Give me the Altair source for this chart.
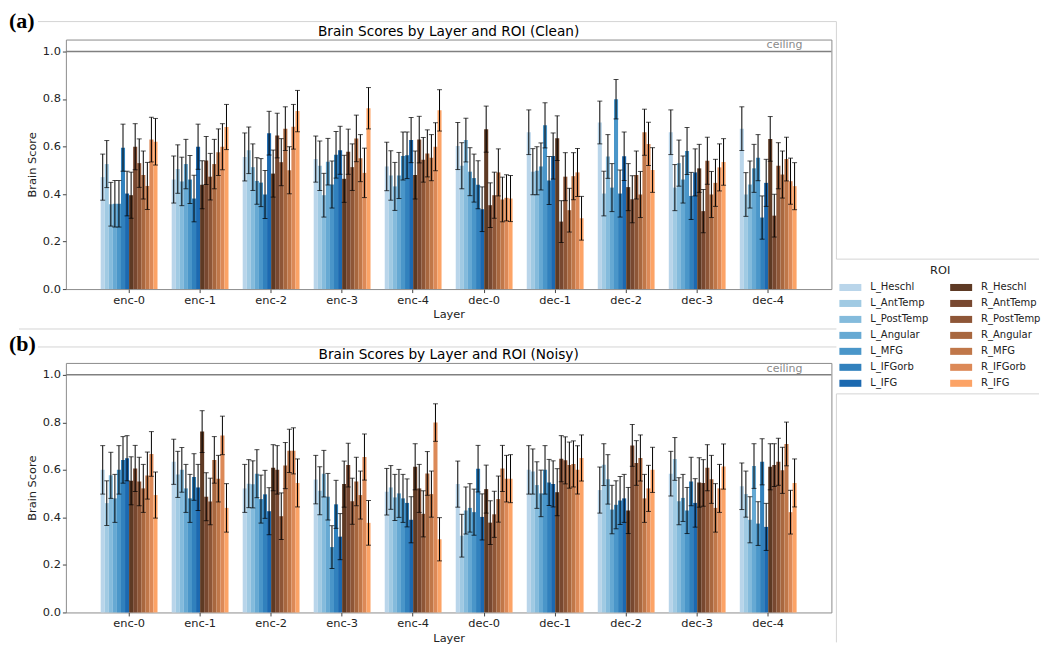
import altair as alt
import pandas as pd

layers = ["enc-0", "enc-1", "enc-2", "enc-3", "enc-4",
          "dec-0", "dec-1", "dec-2", "dec-3", "dec-4"]
rois = ["L_Heschl", "L_AntTemp", "L_PostTemp", "L_Angular", "L_MFG", "L_IFGorb", "L_IFG",
        "R_Heschl", "R_AntTemp", "R_PostTemp", "R_Angular", "R_MFG", "R_IFGorb", "R_IFG"]
roi_colors = ["#b9d5ea", "#a0cae3", "#84bbdc", "#66a9d3", "#4a96c9", "#3181bd", "#1c69b0",
              "#5e3a24", "#784830", "#8e5637", "#a8673f", "#c07749", "#dc8957", "#fca366"]

# Clean condition: mean brain score per layer (rows) and ROI (columns, order of `rois`)
clean_scores = [
    [0.471, 0.526, 0.357, 0.359, 0.359, 0.595, 0.402, 0.395, 0.599, 0.530, 0.480, 0.434, 0.629, 0.620],
    [0.461, 0.505, 0.453, 0.526, 0.461, 0.381, 0.599, 0.439, 0.541, 0.473, 0.526, 0.576, 0.599, 0.682],
    [0.556, 0.584, 0.513, 0.455, 0.448, 0.398, 0.656, 0.486, 0.646, 0.534, 0.675, 0.500, 0.683, 0.749],
    [0.547, 0.519, 0.395, 0.536, 0.440, 0.565, 0.584, 0.464, 0.578, 0.513, 0.634, 0.551, 0.489, 0.761],
    [0.516, 0.478, 0.432, 0.478, 0.560, 0.563, 0.627, 0.480, 0.629, 0.544, 0.571, 0.553, 0.599, 0.752],
    [0.602, 0.519, 0.627, 0.494, 0.467, 0.439, 0.336, 0.673, 0.353, 0.395, 0.491, 0.377, 0.384, 0.381],
    [0.660, 0.494, 0.498, 0.516, 0.689, 0.457, 0.560, 0.635, 0.284, 0.473, 0.332, 0.475, 0.491, 0.298],
    [0.701, 0.402, 0.558, 0.427, 0.799, 0.402, 0.559, 0.429, 0.378, 0.480, 0.398, 0.660, 0.611, 0.501],
    [0.660, 0.427, 0.530, 0.461, 0.581, 0.392, 0.491, 0.508, 0.328, 0.540, 0.398, 0.447, 0.512, 0.535],
    [0.675, 0.398, 0.440, 0.508, 0.553, 0.301, 0.447, 0.632, 0.309, 0.519, 0.482, 0.547, 0.454, 0.433],
]
clean_errors = [
    [0.097, 0.099, 0.092, 0.098, 0.098, 0.099, 0.094, 0.097, 0.097, 0.102, 0.101, 0.099, 0.094, 0.098],
    [0.099, 0.102, 0.102, 0.104, 0.101, 0.098, 0.095, 0.101, 0.101, 0.098, 0.104, 0.098, 0.097, 0.095],
    [0.101, 0.098, 0.098, 0.098, 0.101, 0.101, 0.092, 0.099, 0.094, 0.099, 0.092, 0.099, 0.094, 0.087],
    [0.097, 0.104, 0.092, 0.098, 0.099, 0.098, 0.101, 0.099, 0.095, 0.098, 0.098, 0.099, 0.104, 0.087],
    [0.102, 0.104, 0.101, 0.097, 0.101, 0.098, 0.095, 0.101, 0.098, 0.094, 0.099, 0.097, 0.101, 0.087],
    [0.099, 0.097, 0.092, 0.101, 0.101, 0.101, 0.094, 0.097, 0.094, 0.097, 0.099, 0.094, 0.097, 0.097],
    [0.094, 0.097, 0.101, 0.099, 0.095, 0.101, 0.097, 0.094, 0.088, 0.101, 0.092, 0.099, 0.101, 0.092],
    [0.090, 0.094, 0.092, 0.101, 0.083, 0.099, 0.102, 0.099, 0.099, 0.101, 0.097, 0.097, 0.091, 0.094],
    [0.094, 0.097, 0.097, 0.099, 0.099, 0.099, 0.099, 0.101, 0.091, 0.099, 0.097, 0.099, 0.099, 0.098],
    [0.092, 0.092, 0.099, 0.101, 0.097, 0.091, 0.099, 0.094, 0.090, 0.097, 0.099, 0.092, 0.097, 0.099],
]

# Noisy condition
noisy_scores = [
    [0.600, 0.460, 0.577, 0.480, 0.600, 0.642, 0.649, 0.554, 0.606, 0.551, 0.522, 0.576, 0.667, 0.494],
    [0.634, 0.581, 0.600, 0.522, 0.480, 0.570, 0.526, 0.761, 0.487, 0.467, 0.642, 0.563, 0.745, 0.440],
    [0.522, 0.542, 0.539, 0.584, 0.477, 0.497, 0.426, 0.609, 0.600, 0.405, 0.618, 0.680, 0.680, 0.545],
    [0.559, 0.512, 0.584, 0.487, 0.275, 0.455, 0.319, 0.540, 0.620, 0.468, 0.551, 0.494, 0.654, 0.377],
    [0.508, 0.526, 0.484, 0.501, 0.480, 0.461, 0.390, 0.613, 0.522, 0.415, 0.585, 0.498, 0.799, 0.308],
    [0.540, 0.323, 0.429, 0.440, 0.422, 0.605, 0.402, 0.519, 0.378, 0.413, 0.477, 0.606, 0.563, 0.563],
    [0.600, 0.593, 0.536, 0.501, 0.600, 0.547, 0.541, 0.506, 0.647, 0.640, 0.620, 0.625, 0.600, 0.650],
    [0.515, 0.622, 0.560, 0.433, 0.453, 0.471, 0.480, 0.429, 0.703, 0.629, 0.650, 0.480, 0.522, 0.600],
    [0.584, 0.646, 0.468, 0.482, 0.429, 0.551, 0.461, 0.547, 0.545, 0.609, 0.560, 0.440, 0.522, 0.614],
    [0.531, 0.498, 0.390, 0.616, 0.374, 0.634, 0.360, 0.613, 0.620, 0.634, 0.598, 0.709, 0.422, 0.545],
]
noisy_errors = [
    [0.102, 0.094, 0.097, 0.101, 0.102, 0.098, 0.095, 0.101, 0.097, 0.102, 0.101, 0.099, 0.094, 0.097],
    [0.095, 0.097, 0.094, 0.101, 0.101, 0.098, 0.097, 0.088, 0.101, 0.098, 0.098, 0.098, 0.081, 0.102],
    [0.101, 0.101, 0.099, 0.101, 0.101, 0.101, 0.099, 0.097, 0.102, 0.098, 0.097, 0.091, 0.097, 0.101],
    [0.102, 0.101, 0.098, 0.098, 0.090, 0.101, 0.097, 0.097, 0.092, 0.097, 0.102, 0.101, 0.097, 0.094],
    [0.098, 0.092, 0.097, 0.101, 0.101, 0.101, 0.097, 0.097, 0.101, 0.097, 0.092, 0.097, 0.079, 0.091],
    [0.097, 0.090, 0.099, 0.102, 0.097, 0.098, 0.097, 0.101, 0.092, 0.097, 0.097, 0.097, 0.098, 0.101],
    [0.102, 0.095, 0.098, 0.098, 0.102, 0.097, 0.097, 0.099, 0.097, 0.099, 0.097, 0.097, 0.102, 0.097],
    [0.097, 0.088, 0.104, 0.102, 0.101, 0.101, 0.101, 0.097, 0.088, 0.094, 0.097, 0.101, 0.097, 0.095],
    [0.094, 0.090, 0.099, 0.099, 0.097, 0.102, 0.102, 0.104, 0.098, 0.097, 0.101, 0.102, 0.101, 0.095],
    [0.098, 0.097, 0.097, 0.094, 0.092, 0.097, 0.099, 0.097, 0.090, 0.099, 0.097, 0.092, 0.092, 0.101],
]

panel_titles = ["Brain Scores by Layer and ROI (Clean)", "Brain Scores by Layer and ROI (Noisy)"]
panel_tags = ["(a)", "(b)"]
ceiling_value = [1.0]
y_ticks = [0.0, 0.2, 0.4, 0.6, 0.8, 1.0]

FONT = "DejaVu Sans"
PW, PH = 767, 250
FRAME = "#d4d4d4"


def make_df(scores, errors):
    rows = []
    for li, layer in enumerate(layers):
        for ri, roi in enumerate(rois):
            s = scores[li][ri]
            e = errors[li][ri]
            rows.append({"Layer": layer, "ROI": roi, "score": s, "lo": s - e, "hi": s + e})
    return pd.DataFrame(rows)


y_scale = alt.Scale(domain=[0, 1.05], nice=False, zero=True)
x_enc = alt.X("Layer:N", sort=layers,
              scale=alt.Scale(paddingInner=0.2, paddingOuter=0.49),
              axis=alt.Axis(title="Layer", labelAngle=0))
xo_enc = alt.XOffset("ROI:N", sort=rois, scale=alt.Scale(paddingInner=0, paddingOuter=0))


def frame_line(x1, x2, y1, y2=None):
    enc = {"x": alt.value(x1), "x2": alt.value(x2), "y": alt.value(y1)}
    if y2 is not None:
        enc["y2"] = alt.value(y2)
    return alt.Chart(pd.DataFrame({"k": [0]})).mark_rule(
        color=FRAME, strokeWidth=1).encode(**enc)


def panel(df, title, tag, frames):
    base = alt.Chart(df)
    bars = base.mark_bar().encode(
        x=x_enc, xOffset=xo_enc,
        y=alt.Y("score:Q", scale=y_scale,
                axis=alt.Axis(title="Brain Score", values=y_ticks, format=".1f")),
        color=alt.Color("ROI:N",
                        scale=alt.Scale(domain=rois, range=roi_colors),
                        legend=alt.Legend(
                            title="ROI", orient="none", legendX=775, legendY=226,
                            columns=2, direction="vertical",
                            symbolType="M-1,-0.32H1V0.32H-1Z", symbolSize=484,
                            symbolStrokeWidth=0, labelFontSize=10, labelFont=FONT,
                            titleFont=FONT, titleFontSize=11.4, titleFontWeight="normal",
                            titleAnchor="middle", titleColor="#222", labelColor="#222",
                            titlePadding=0,
                            columnPadding=21, rowPadding=0, labelOffset=9, padding=0)),
    )
    errs = base.mark_rule(color="black", strokeWidth=1).encode(
        x=x_enc, xOffset=xo_enc,
        y=alt.Y("lo:Q", scale=y_scale, title="Brain Score"), y2="hi:Q")
    cap_hi = base.mark_tick(color="black", thickness=1, size=5, orient="horizontal").encode(
        x=x_enc, xOffset=xo_enc, y=alt.Y("hi:Q", scale=y_scale, title="Brain Score"))
    cap_lo = base.mark_tick(color="black", thickness=1, size=5, orient="horizontal").encode(
        x=x_enc, xOffset=xo_enc, y=alt.Y("lo:Q", scale=y_scale, title="Brain Score"))
    cdf = pd.DataFrame({"v": ceiling_value, "t": ["ceiling"]})
    ceil = alt.Chart(cdf).mark_rule(color="#808080", strokeWidth=1.5).encode(
        y=alt.Y("v:Q", scale=y_scale, title="Brain Score"))
    ceil_txt = alt.Chart(cdf).mark_text(align="right", baseline="alphabetic", dy=-3,
                                        color="#8a8a8a", fontSize=11, font=FONT).encode(
        y=alt.Y("v:Q", scale=y_scale, title="Brain Score"), x=alt.value(738), text="t:N")
    tdf = pd.DataFrame({"tag": [tag], "title": [title]})
    tag_txt = alt.Chart(tdf).mark_text(
        align="left", baseline="middle", font="Liberation Serif", fontWeight="bold",
        fontSize=22, color="black").encode(x=alt.value(-57), y=alt.value(-19), text="tag:N")
    title_txt = alt.Chart(tdf).mark_text(
        align="center", baseline="middle", font=FONT, fontSize=13.7,
        color="black").encode(x=alt.value(PW / 2), y=alt.value(-8), text="title:N")
    return alt.layer(*frames, bars, errs, cap_hi, cap_lo, ceil, ceil_txt,
                     tag_txt, title_txt).properties(width=PW, height=PH)


frames_a = [
    frame_line(-28, 772, -18),
    frame_line(772, 772, -18, 220),
    frame_line(772, 975, 220),
]
frames_b = [
    frame_line(-47, 772, -34),
    frame_line(-28, 772, -16),
    frame_line(772, 975, 31),
    frame_line(772, 772, 31, 280),
]

chart = alt.vconcat(
    panel(make_df(clean_scores, clean_errors), panel_titles[0], panel_tags[0], frames_a),
    panel(make_df(noisy_scores, noisy_errors), panel_titles[1], panel_tags[1], frames_b),
    spacing=7,
).properties(padding=0).configure_view(
    stroke="#8c8c8c", strokeWidth=1
).configure_axis(
    domain=False, grid=False, tickColor="#444", tickSize=3.5, labelPadding=2,
    labelFont=FONT, labelFontSize=11.4, labelColor="#222",
    titleFont=FONT, titleFontSize=11.4, titleFontWeight="normal", titleColor="#222",
).configure_axisX(titlePadding=3).configure_axisY(titlePadding=5)

chart.save("out.html", embed_options={"renderer": "svg", "actions": False})
